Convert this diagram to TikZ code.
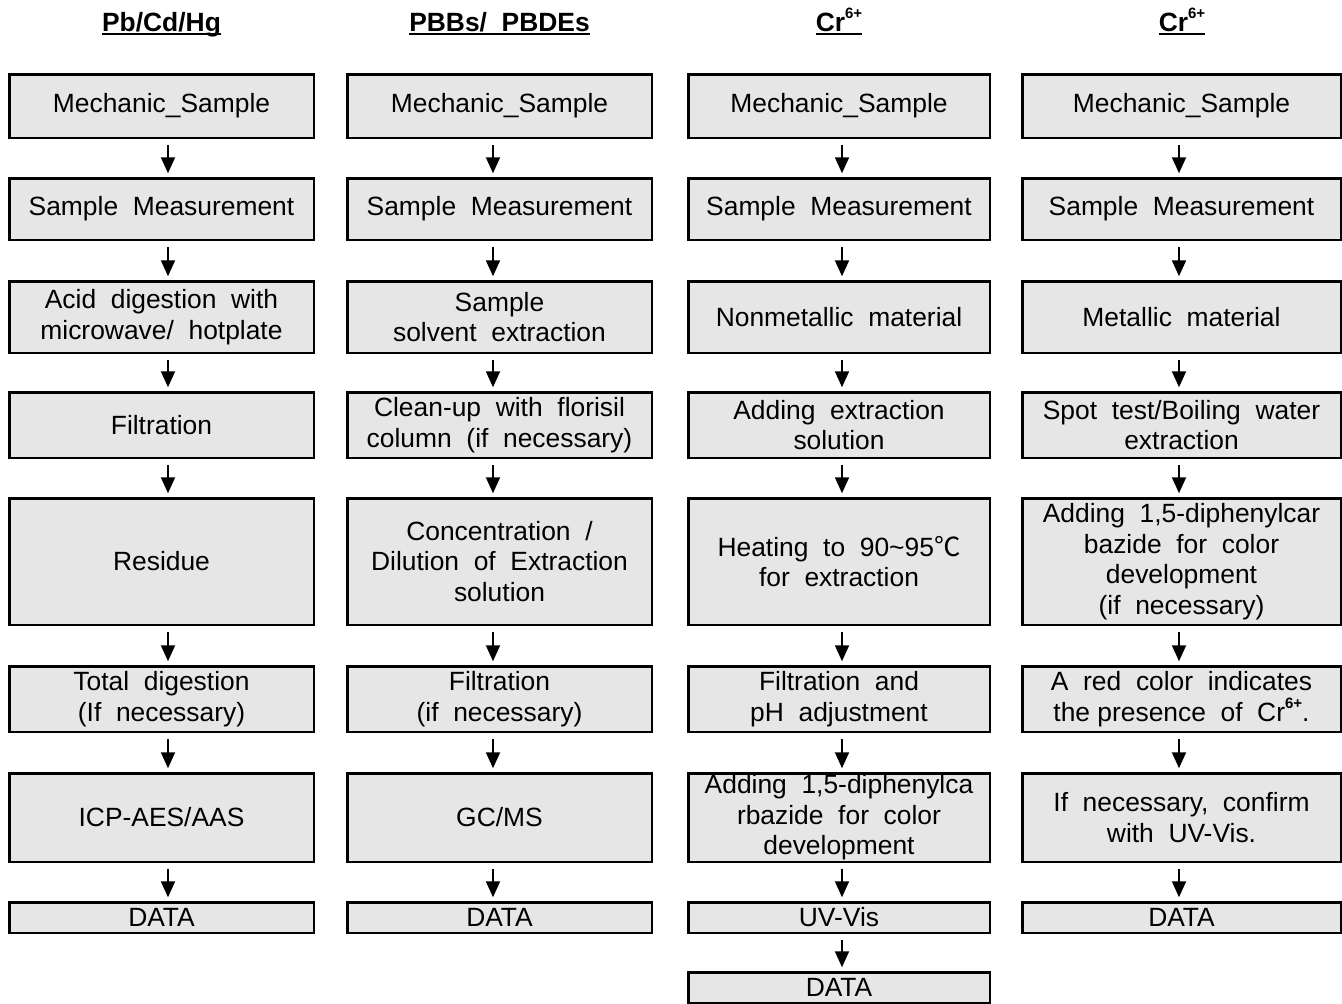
\documentclass[tikz,border=0pt]{standalone}
\usepackage{fontspec}
\setmainfont{Liberation Sans}[WordSpace=2]
\newfontfamily\cjk{Noto Sans CJK KR}
\usetikzlibrary{arrows.meta}
\definecolor{boxfill}{RGB}{230,230,230}
\newcommand\fs{\fontsize{26.4}{30.5}\selectfont}
\newcommand\crsup{\raisebox{13pt}{\fontsize{15}{15}\selectfont\bfseries 6+}}
\tikzset{
  box/.style={draw=black, line width=2.5pt, fill=boxfill, align=center,
              inner sep=0pt, font=\fs, text=black},
  flow/.style={line width=2pt, -{Triangle[width=14pt,length=16pt]},
               shorten <=6.25pt, shorten >=3.75pt},
  hdr/.style={font=\fs\bfseries, inner sep=0pt, anchor=base},
  uline/.style={line width=2.2pt},
}
% \bx{name}{cx}{cy}{w}{h}{text}
\newcommand\bx[6]{\node[box, minimum width=#4pt, minimum height=#5pt] (#1) at (#2,#3) {#6};}
\begin{document}
\begin{tikzpicture}[x=1pt,y=-1pt]
\useasboundingbox (0,0) rectangle (1342,1004);

% headers
\node[hdr] (h1) at (161.5,31) {Pb/Cd/Hg};
\node[hdr] (h2) at (499.5,31) {PBBs/ PBDEs};
\node[hdr] (h3) at (839,31) {Cr\crsup};
\node[hdr] (h4) at (1182,31) {Cr\crsup};
\foreach \h in {h1,h2,h3,h4}
  \draw[uline] ([yshift=-3.2pt]\h.base west) -- ([yshift=-3.2pt]\h.base east);

% column 1
\bx{a1}{161.5}{106}{304.5}{63.5}{Mechanic\_Sample}
\bx{a2}{161.5}{209}{304.5}{61.5}{Sample Measurement}
\bx{a3}{161.5}{317}{304.5}{71.5}{Acid digestion with\\microwave/ hotplate}
\bx{a4}{161.5}{425}{304.5}{65.5}{Filtration}
\bx{a5}{161.5}{561.5}{304.5}{126.5}{Residue}
\bx{a6}{161.5}{699}{304.5}{65.5}{Total digestion\\(If necessary)}
\bx{a7}{161.5}{817.5}{304.5}{88.5}{ICP-AES/AAS}
\bx{a8}{161.5}{917.5}{304.5}{30.5}{DATA}

% column 2
\bx{b1}{499.5}{106}{304.5}{63.5}{Mechanic\_Sample}
\bx{b2}{499.5}{209}{304.5}{61.5}{Sample Measurement}
\bx{b3}{499.5}{317}{304.5}{71.5}{Sample\\solvent extraction}
\bx{b4}{499.5}{425}{304.5}{65.5}{Clean-up with florisil\\column (if necessary)}
\bx{b5}{499.5}{561.5}{304.5}{126.5}{Concentration /\\Dilution of Extraction\\solution}
\bx{b6}{499.5}{699}{304.5}{65.5}{Filtration\\(if necessary)}
\bx{b7}{499.5}{817.5}{304.5}{88.5}{GC/MS}
\bx{b8}{499.5}{917.5}{304.5}{30.5}{DATA}

% column 3
\bx{c1}{839}{106}{301.5}{63.5}{Mechanic\_Sample}
\bx{c2}{839}{209}{301.5}{61.5}{Sample Measurement}
\bx{c3}{839}{317}{301.5}{71.5}{Nonmetallic material}
\bx{c4}{839}{425}{301.5}{65.5}{Adding extraction\\solution}
\bx{c5}{839}{561.5}{301.5}{126.5}{Heating to 90\textasciitilde95{\cjk ℃}\\for extraction}
\bx{c6}{839}{699}{301.5}{65.5}{Filtration and\\pH adjustment}
\bx{c7}{839}{817.5}{301.5}{88.5}{Adding 1,5-diphenylca\\rbazide for color\\development}
\bx{c8}{839}{917.5}{301.5}{30.5}{UV-Vis}
\bx{c9}{839}{987.5}{301.5}{30.5}{DATA}

% column 4
\bx{d1}{1181.5}{106}{318.5}{63.5}{Mechanic\_Sample}
\bx{d2}{1181.5}{209}{318.5}{61.5}{Sample Measurement}
\bx{d3}{1181.5}{317}{318.5}{71.5}{Metallic material}
\bx{d4}{1181.5}{425}{318.5}{65.5}{Spot test/Boiling water\\extraction}
\bx{d5}{1181.5}{561.5}{318.5}{126.5}{Adding 1,5-diphenylcar\\bazide for color\\development\\(if necessary)}
\bx{d6}{1181.5}{699}{318.5}{65.5}{A red color indicates\\the\fontdimen2\font=7.3pt\ presence\fontdimen2\font=14.6pt\ of Cr\crsup.}
\bx{d7}{1181.5}{817.5}{318.5}{88.5}{If necessary, confirm\\with UV-Vis.}
\bx{d8}{1181.5}{917.5}{318.5}{30.5}{DATA}

% connectors
\foreach \c/\dx in {a/6.5, b/-6.5, c/3, d/-2.5}
  \foreach \i [count=\j from 2] in {1,...,7}
    \draw[flow] ([xshift=\dx pt]\c\i.south) -- ([xshift=\dx pt]\c\j.north);
\draw[flow] ([xshift=3pt]c8.south) -- ([xshift=3pt]c9.north);
\end{tikzpicture}
\end{document}
